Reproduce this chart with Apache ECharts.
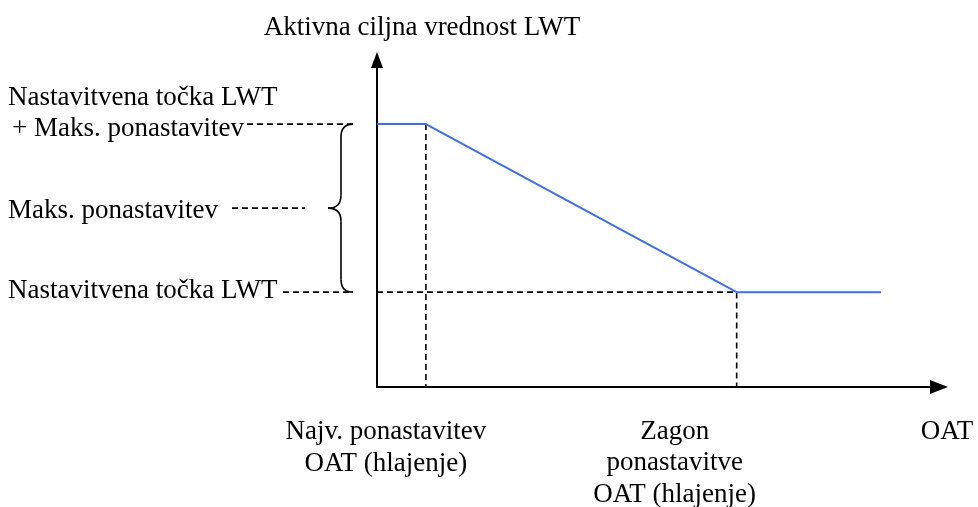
<!DOCTYPE html>
<html><head><meta charset="utf-8">
<script src="https://cdn.jsdelivr.net/npm/echarts@6/dist/echarts.min.js"></script>
<style>html,body{margin:0;padding:0;background:#fff}#c{width:978px;height:507px}</style>
</head><body><div id="c"></div>
<script>
// Data (abstract units: x 0..100 = OAT axis, y 0..100 = LWT axis)
const curveX = [0, 8.7, 64, 89.7];
const curveY = [80.4, 80.4, 29, 29];
const maxResetX = 8.7;       // Najv. ponastavitev OAT
const startResetX = 64;      // Zagon ponastavitve OAT
const highY = 80.4;          // Nastavitvena točka LWT + Maks. ponastavitev
const lowY = 29;             // Nastavitvena točka LWT
const titleText = 'Aktivna ciljna vrednost LWT';
const xAxisText = 'OAT';
const xTickNames = ['Najv. ponastavitev\nOAT (hlajenje)', 'Zagon\nponastavitve\nOAT (hlajenje)'];
const yLevelNames = ['Nastavitvena točka LWT', '+ Maks. ponastavitev', 'Maks. ponastavitev', 'Nastavitvena točka LWT'];

const FONT = '"Liberation Serif","Times New Roman",serif';
const FS = 27;
const chart = echarts.init(document.getElementById('c'), null, {renderer: 'canvas'});
const dashStyle = {color: '#000', width: 1.6, type: [6, 4]};
chart.setOption({
  animation: false,
  grid: {left: 377, right: 39, top: 60, bottom: 120},
  xAxis: {type: 'value', min: 0, max: 100,
    axisLine: {lineStyle: {color: '#000', width: 2}, symbol: ['none', 'triangle'], symbolSize: [14, 18]},
    axisTick: {show: false}, axisLabel: {show: false}, splitLine: {show: false}},
  yAxis: {type: 'value', min: 0, max: 100,
    axisLine: {show: true, lineStyle: {color: '#000', width: 2}, symbol: ['none', 'triangle'], symbolSize: [12, 16]},
    axisTick: {show: false}, axisLabel: {show: false}, splitLine: {show: false}},
  series: [
    {type: 'line', data: [[maxResetX, highY], [maxResetX, 0]], symbol: 'none', lineStyle: dashStyle, z: 1},
    {type: 'line', data: [[0, lowY], [startResetX, lowY], [startResetX, 0]], symbol: 'none', lineStyle: dashStyle, z: 1},
    {type: 'line', data: curveX.map((x, i) => [x, curveY[i]]), symbol: 'none',
      lineStyle: {color: '#3f6fef', width: 2}, z: 3}
  ]
});

const yHi = chart.convertToPixel({gridIndex: 0}, [0, highY])[1];
const yLo = chart.convertToPixel({gridIndex: 0}, [0, lowY])[1];
const yMid = (yHi + yLo) / 2;
const xMaxR = chart.convertToPixel({gridIndex: 0}, [maxResetX, 0])[0];
const xStartR = chart.convertToPixel({gridIndex: 0}, [startResetX, 0])[0];

function txt(text, x, y, align) {
  return {type: 'text', style: {text: text, x: x, y: y, align: align || 'left', verticalAlign: 'middle',
    font: FS + 'px ' + FONT, fill: '#000', lineHeight: 31.5}};
}
function dash(x1, y, x2) {
  return {type: 'line', shape: {x1: x1, y1: y, x2: x2, y2: y},
    style: {stroke: '#000', lineWidth: 1.6, lineDash: [6, 4]}};
}
const braceStyle = {stroke: '#000', lineWidth: 1.6, fill: null};
function curve(x1, y1, cx, cy, x2, y2) {
  return {type: 'bezierCurve', shape: {x1: x1, y1: y1, cpx1: cx, cpy1: cy, x2: x2, y2: y2}, style: braceStyle};
}
function seg(x1, y1, x2, y2) {
  return {type: 'line', shape: {x1: x1, y1: y1, x2: x2, y2: y2}, style: braceStyle};
}
const bx = 341, tipX = 328, endX = 353, r = 13;

chart.setOption({graphic: [
  txt(titleText, 422, 28, 'center'),
  txt(yLevelNames[0], 8, yHi - 26),
  txt(yLevelNames[1], 12, yHi + 5),
  txt(yLevelNames[2], 8, yMid + 3),
  txt(yLevelNames[3], 8, yLo - 1),
  dash(247, yHi, endX),
  dash(232, yMid, 305),
  dash(283, yLo, endX),
  curve(endX, yHi, bx, yHi, bx, yHi + r),
  seg(bx, yHi + r, bx, yMid - r),
  curve(bx, yMid - r, bx, yMid, tipX, yMid),
  curve(tipX, yMid, bx, yMid, bx, yMid + r),
  seg(bx, yMid + r, bx, yLo - r),
  curve(bx, yLo - r, bx, yLo, endX, yLo),
  txt(xTickNames[0], xMaxR - 40, 448, 'center'),
  txt(xTickNames[1], xStartR - 62, 463, 'center'),
  txt(xAxisText, 947, 432, 'center')
]});
</script></body></html>
